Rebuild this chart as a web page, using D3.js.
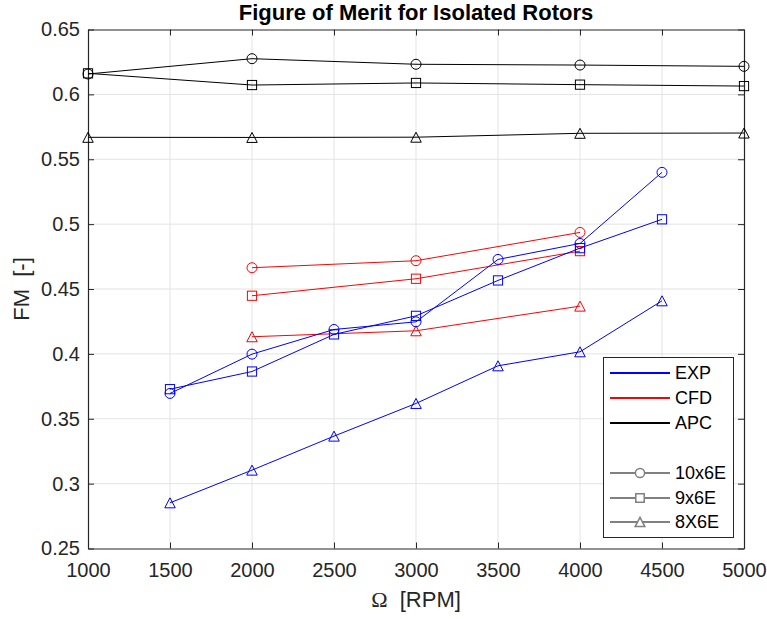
<!DOCTYPE html>
<html>
<head>
<meta charset="utf-8">
<script src="https://cdn.jsdelivr.net/npm/d3@7"></script>
<style>
  html, body { margin: 0; padding: 0; background: #fff; }
  svg { display: block; font-family: "Liberation Sans", Arial, Helvetica, sans-serif; }
</style>
</head>
<body>
<svg id="chart" width="767" height="619"></svg>
<script>
// Rotor speed (RPM) for each data source
const rpmAPC = [1000, 2000, 3000, 4000, 5000];
const rpmEXP = [1500, 2000, 2500, 3000, 3500, 4000, 4500];
const rpmCFD = [2000, 3000, 4000];

// Figure of merit, APC manufacturer data
const apc10x6 = [0.6157, 0.6275, 0.6232, 0.6226, 0.6216];
const apc9x6  = [0.6162, 0.6072, 0.6088, 0.6075, 0.6064];
const apc8x6  = [0.5669, 0.5668, 0.5670, 0.5700, 0.5702];

// Figure of merit, experiment
const exp10x6 = [0.3695, 0.3998, 0.4188, 0.4247, 0.4728, 0.4851, 0.5399];
const exp9x6  = [0.3728, 0.3864, 0.4150, 0.4293, 0.4566, 0.4815, 0.5037];
const exp8x6  = [0.2852, 0.3104, 0.3366, 0.3618, 0.3908, 0.4016, 0.4409];

// Figure of merit, CFD
const cfd10x6 = [0.4664, 0.4718, 0.4936];
const cfd9x6  = [0.4448, 0.4579, 0.4792];
const cfd8x6  = [0.4132, 0.4178, 0.4368];

// Axis ticks
const xTicks = [1000, 1500, 2000, 2500, 3000, 3500, 4000, 4500, 5000];
const yTicks = [0.25, 0.3, 0.35, 0.4, 0.45, 0.5, 0.55, 0.6, 0.65];
const yTickLabels = ["0.25", "0.3", "0.35", "0.4", "0.45", "0.5", "0.55", "0.6", "0.65"];

// Legend entries
const sourceNames = ["EXP", "CFD", "APC"];
const sourceColors = ["#0000ff", "#ff0000", "#000000"];
const rotorNames = ["10x6E", "9x6E", "8X6E"];
const rotorMarkers = ["circle", "square", "triangle"];

const series = [
  { x: rpmAPC, y: apc10x6, color: "#000000", marker: "circle" },
  { x: rpmAPC, y: apc9x6,  color: "#000000", marker: "square" },
  { x: rpmAPC, y: apc8x6,  color: "#000000", marker: "triangle" },
  { x: rpmCFD, y: cfd10x6, color: "#ff0000", marker: "circle" },
  { x: rpmCFD, y: cfd9x6,  color: "#ff0000", marker: "square" },
  { x: rpmCFD, y: cfd8x6,  color: "#ff0000", marker: "triangle" },
  { x: rpmEXP, y: exp10x6, color: "#0000ff", marker: "circle" },
  { x: rpmEXP, y: exp9x6,  color: "#0000ff", marker: "square" },
  { x: rpmEXP, y: exp8x6,  color: "#0000ff", marker: "triangle" }
];

const svg = d3.select("#chart");
const plotL = 88, plotR = 744, plotT = 29.5, plotB = 548.5;
const axisColor = "#262626";
const gridColor = "#e3e3e3";

const x = d3.scaleLinear().domain([1000, 5000]).range([plotL, plotR]);
const y = d3.scaleLinear().domain([0.25, 0.65]).range([plotB, plotT]);

// Grid
const grid = svg.append("g");
grid.selectAll("line.gx").data(xTicks.slice(1, -1)).join("line")
  .attr("x1", d => x(d)).attr("x2", d => x(d))
  .attr("y1", plotT).attr("y2", plotB)
  .attr("stroke", gridColor).attr("stroke-width", 1);
grid.selectAll("line.gy").data(yTicks.slice(1, -1)).join("line")
  .attr("y1", d => y(d)).attr("y2", d => y(d))
  .attr("x1", plotL).attr("x2", plotR)
  .attr("stroke", gridColor).attr("stroke-width", 1);

// Box axes with inward ticks
const tickLen = 6;
const xAxisB = d3.axisBottom(x).tickValues(xTicks).tickSize(-tickLen).tickSizeOuter(0).tickPadding(14).tickFormat(d3.format("d"));
const xAxisT = d3.axisTop(x).tickValues(xTicks).tickSize(-tickLen).tickSizeOuter(0).tickFormat("");
const yAxisL = d3.axisLeft(y).tickValues(yTicks).tickSize(-tickLen).tickSizeOuter(0).tickPadding(8)
  .tickFormat((d, i) => yTickLabels[i]);
const yAxisR = d3.axisRight(y).tickValues(yTicks).tickSize(-tickLen).tickSizeOuter(0).tickFormat("");

function styleAxis(g) {
  g.selectAll(".domain").attr("stroke", axisColor).attr("stroke-width", 1.2);
  g.selectAll(".tick line").attr("stroke", axisColor).attr("stroke-width", 1);
  g.selectAll(".tick text").attr("fill", axisColor).attr("font-size", 20)
    .attr("font-family", "Liberation Sans, Arial, sans-serif");
}

svg.append("g").attr("transform", `translate(0,${plotB})`).call(xAxisB).call(styleAxis);
svg.append("g").attr("transform", `translate(0,${plotT})`).call(xAxisT).call(styleAxis);
svg.append("g").attr("transform", `translate(${plotL},0)`).call(yAxisL).call(styleAxis);
svg.append("g").attr("transform", `translate(${plotR},0)`).call(yAxisR).call(styleAxis);

// Marker drawing
const markerSize = 5;
function drawMarker(g, type, cx, cy, color, s) {
  s = s || markerSize;
  if (type === "circle") {
    g.append("circle").attr("cx", cx).attr("cy", cy).attr("r", s)
      .attr("fill", "none").attr("stroke", color).attr("stroke-width", 1);
  } else if (type === "square") {
    g.append("rect").attr("x", cx - s * 0.92).attr("y", cy - s * 0.92)
      .attr("width", s * 1.84).attr("height", s * 1.84)
      .attr("fill", "none").attr("stroke", color).attr("stroke-width", 1);
  } else {
    const h = s * 1.0;
    g.append("path")
      .attr("d", `M${cx},${cy - h}L${cx + s * 1.05},${cy + h}L${cx - s * 1.05},${cy + h}Z`)
      .attr("fill", "none").attr("stroke", color).attr("stroke-width", 1);
  }
}

// Data lines and markers
const line = d3.line().x(d => x(d[0])).y(d => y(d[1]));
const plot = svg.append("g");
series.forEach(s => {
  const pts = s.x.map((v, i) => [v, s.y[i]]);
  plot.append("path").attr("d", line(pts)).attr("fill", "none")
    .attr("stroke", s.color).attr("stroke-width", 1);
  pts.forEach(p => drawMarker(plot, s.marker, x(p[0]), y(p[1]), s.color));
});

// Title and axis labels
svg.append("text").attr("x", (plotL + plotR) / 2).attr("y", 20)
  .attr("text-anchor", "middle").attr("font-weight", "bold").attr("font-size", 22)
  .attr("fill", "#000").text("Figure of Merit for Isolated Rotors");

const xl = svg.append("text").attr("x", (plotL + plotR) / 2).attr("y", 607)
  .attr("text-anchor", "middle").attr("font-size", 22).attr("fill", axisColor)
  .style("white-space", "pre");
xl.append("tspan").attr("font-family", "Liberation Serif, Times New Roman, serif").text("Ω");
xl.append("tspan").text("  [RPM]");

svg.append("text").attr("transform", `translate(28.5,${(plotT + plotB) / 2}) rotate(-90)`)
  .attr("text-anchor", "middle").attr("font-size", 22).attr("fill", axisColor)
  .style("white-space", "pre").text("FM  [-]");

// Legend
const lg = svg.append("g");
const lx0 = 603.5, ly0 = 357.5, lw = 130, lh = 180;
lg.append("rect").attr("x", lx0).attr("y", ly0).attr("width", lw).attr("height", lh)
  .attr("fill", "#fff").attr("stroke", axisColor).attr("stroke-width", 1);
const rowY = [373, 398, 423, 473, 498, 522];
sourceNames.forEach((n, i) => {
  lg.append("line").attr("x1", 610).attr("x2", 670).attr("y1", rowY[i]).attr("y2", rowY[i])
    .attr("stroke", sourceColors[i]).attr("stroke-width", 2);
  lg.append("text").attr("x", 675).attr("y", rowY[i]).attr("dy", "0.36em")
    .attr("font-size", 18).attr("fill", "#000").text(n);
});
const gray = "#808080";
rotorNames.forEach((n, i) => {
  const yy = rowY[3 + i];
  lg.append("line").attr("x1", 610).attr("x2", 670).attr("y1", yy).attr("y2", yy)
    .attr("stroke", gray).attr("stroke-width", 2);
  const mg = lg.append("g");
  drawMarker(mg, rotorMarkers[i], 640, yy, gray, 4.6);
  mg.selectAll("*").attr("fill", "#fff").attr("stroke-width", 1.5);
  lg.append("text").attr("x", 675).attr("y", yy).attr("dy", "0.36em")
    .attr("font-size", 18).attr("fill", "#000").text(n);
});
</script>
</body>
</html>
